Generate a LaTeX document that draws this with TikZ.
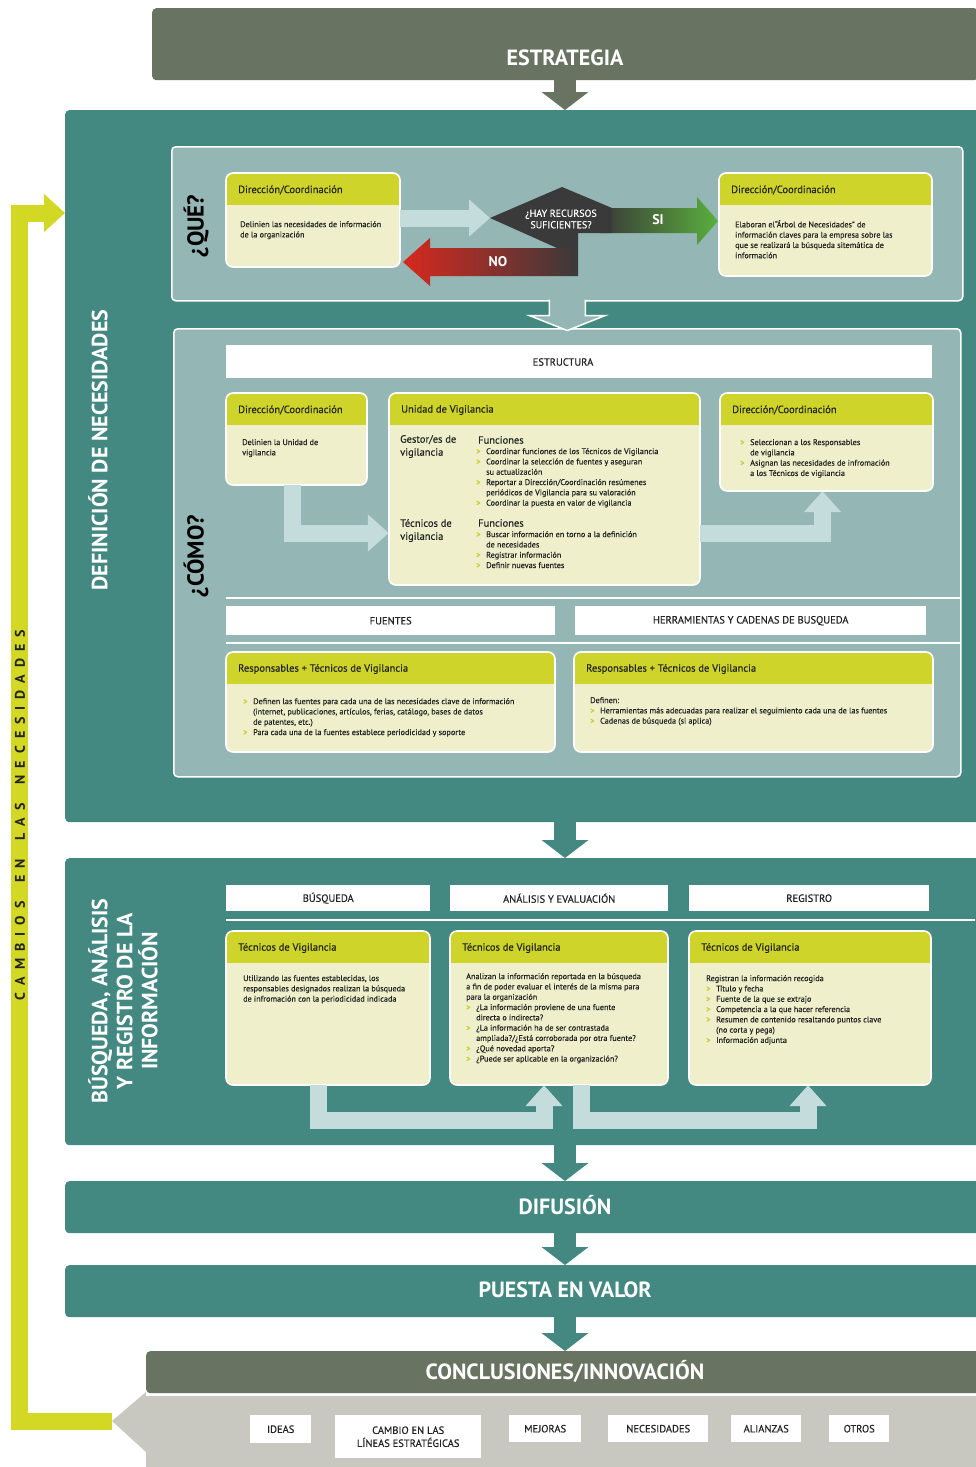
\documentclass[tikz,border=0pt]{standalone}
\usepackage{fontspec}
\setmainfont{PT Sans}
\newfontfamily\vsemi{PT Sans}[FakeBold=0.4]
\usetikzlibrary{arrows.meta}
\usetikzlibrary{fit}

% viñeta y sangría
\newcommand{\vb}{\makebox[10pt][l]{\textcolor{bulc}{\bfseries >}}}
\newcommand{\vi}{\hspace*{10pt}}

% tarjeta: nombre, x1, y1, x2, y2, cabecera
\newcommand{\vcard}[6]{%
  \begin{scope}
    \clip[rounded corners=7pt] (#2,#3) rectangle (#4,#5);
    \fill[bodyc] (#2,#3) rectangle (#4,#5);
    \fill[headc] (#2,#3) rectangle (#4,#3+32);
  \end{scope}
  \draw[white, line width=1.6pt, rounded corners=7pt] (#2,#3) rectangle (#4,#5);
  \node[fit={(#2,#3) (#4,#5)}, inner sep=0pt] (#1) {};
  \node[headtxt] (#1h) at (#2+12,#3+17) {#6};
}

\begin{document}
\begin{tikzpicture}[x=1pt, y=-1pt,
    headtxt/.style={anchor=west, inner sep=0pt, text=txtc, font=\vsemi\fontsize{10.5}{12}\selectfont},
    bodytxt/.style={anchor=north west, inner sep=0pt, align=left, text=txtc, font=\vsemi\fontsize{8.2}{10.3}\selectfont},
    roletxt/.style={anchor=north west, inner sep=0pt, align=left, text=txtc, font=\vsemi\fontsize{10.5}{13}\selectfont},
    barlabel/.style={anchor=north west, fill=white, inner sep=0pt, text=txtc, font=\vsemi\fontsize{10.5}{12}\selectfont},
    itembox/.style={anchor=north west, fill=white, inner sep=0pt, align=center, text=txtc, font=\vsemi\fontsize{10.5}{13}\selectfont},
    bigbox/.style={anchor=north west, inner sep=0pt, rounded corners=4pt},
    panelbox/.style={anchor=north west, inner sep=0pt, fill=panelc, draw=white, line width=1.5pt, rounded corners=4pt},
    bigtxt/.style={text=white, font=\fontsize{22}{24}\selectfont\bfseries},
    sectxt/.style={text=white, rotate=90, align=center, font=\fontsize{22}{25}\selectfont\bfseries},
    asktxt/.style={text=black, rotate=90, font=\fontsize{23}{25}\selectfont\bfseries},
    palearrow/.style={draw=paleArrow, line width=17pt, line join=miter, -{Triangle[width=36pt,length=21pt]}},
    downarrow/.style={line width=22pt, -{Triangle[width=46pt,length=18pt]}},
    looparrow/.style={draw=loopc, line width=17pt, line join=miter, -{Triangle[width=37pt,length=21pt]}}]
    % colores
    \definecolor{olivec}{RGB}{104,116,97}
    \definecolor{tealc}{RGB}{67,137,129}
    \definecolor{panelc}{RGB}{148,182,180}
    \definecolor{headc}{RGB}{206,212,42}
    \definecolor{bodyc}{RGB}{239,240,203}
    \definecolor{paleArrow}{RGB}{196,220,219}
    \definecolor{loopc}{RGB}{211,216,36}
    \definecolor{grayc}{RGB}{200,200,193}
    \definecolor{darkc}{RGB}{58,58,58}
    \definecolor{noRed}{RGB}{215,40,30}
    \definecolor{siGreen}{RGB}{90,175,60}
    \definecolor{txtc}{RGB}{35,35,35}
    \definecolor{bulc}{RGB}{200,207,50}

    \fill[white] (0,0) rectangle (975,1467);
    \useasboundingbox (0,0) rectangle (975,1467);

    % bloques principales
    \node[bigbox, fill=olivec, minimum width=826pt, minimum height=72pt] (estr) at (152,8) {};
    \node[bigtxt] (testr) at (565,58) {ESTRATEGIA};
    \node[bigbox, fill=tealc, minimum width=920pt, minimum height=712pt] (defn) at (65,110) {};
    \node[bigbox, fill=tealc, minimum width=920pt, minimum height=287pt] (busq) at (65,858) {};
    \node[bigbox, fill=tealc, minimum width=1000pt, minimum height=52pt] (difu) at (65,1181) {};
    \node[bigtxt] (tdifu) at (565,1205) {DIFUSIÓN};
    \node[bigbox, fill=tealc, minimum width=1000pt, minimum height=52pt] (pval) at (65,1265) {};
    \node[bigtxt] (tpval) at (565,1290) {PUESTA EN VALOR};
    \node[bigbox, fill=olivec, minimum width=838pt, minimum height=42pt] (concl) at (146,1351) {};
    \node[bigtxt] (tconcl) at (565,1371) {CONCLUSIONES/INNOVACIÓN};

    \node[sectxt] (tdefn) at (98,450) {DEFINICIÓN DE NECESIDADES};
    \node[sectxt] (tbusq) at (123,1001) {BÚSQUEDA, ANÁLISIS\\Y REGISTRO DE LA\\INFORMACIÓN};

    % flechas entre bloques
    \coordinate (ax) at (565,0);
    \draw[downarrow, draw=olivec] (estr.south -| ax) -- (defn.north -| ax);
    \draw[downarrow, draw=tealc] (defn.south -| ax) -- (busq.north -| ax);
    \draw[downarrow, draw=tealc] (busq.south -| ax) -- (difu.north -| ax);
    \draw[downarrow, draw=tealc] (difu.south -| ax) -- (pval.north -| ax);
    \draw[downarrow, draw=tealc] (pval.south -| ax) -- (concl.north -| ax);

    % ¿QUÉ?
    \node[panelbox, minimum width=791pt, minimum height=154pt] (que) at (171,146) {};
    \node[asktxt] (tque) at (196,226) {¿QUÉ?};
    \vcard{dq1}{226}{173}{400}{267}{Dirección/Coordinación}
    \node[bodytxt] (bq1) at (240,221) {Delinien las necesidades de información\\de la organización};
    \vcard{dq2}{719}{173}{932}{276}{Dirección/Coordinación}
    \node[bodytxt] (bq2) at (735,220) {Elaboran el“Árbol de Necesidades” de\\información claves para la empresa sobre las\\que se realizará la búsqueda sitemática de\\información};

    \coordinate (hayw) at (490,218);
    \draw[palearrow] (dq1.east |- hayw) -- (hayw);
    \shade[left color=noRed, right color=darkc] (403,262) -- (430,238) -- (430,248) -- (578,248) -- (578,276) -- (430,276) -- (430,286) -- cycle;
    \shade[left color=darkc, right color=siGreen] (600,208) -- (697,208) -- (697,197) -- (718,221) -- (697,245) -- (697,233) -- (600,233) -- cycle;
    \fill[darkc] (hayw) -- (562,187) -- (612,208) -- (612,233) -- (578,233) -- (578,248) -- (557,248) -- cycle;
    \node[text=white, align=center, font=\vsemi\fontsize{10}{11.5}\selectfont] (hay) at (561,219) {¿HAY RECURSOS\\SUFICIENTES?};
    \node[text=white, font=\fontsize{14}{16}\selectfont\bfseries] (tno) at (498,262) {NO};
    \node[text=white, font=\fontsize{14}{16}\selectfont\bfseries] (tsi) at (658,220) {SI};

    % ¿CÓMO?
    \node[panelbox, minimum width=787pt, minimum height=448pt] (como) at (173,328) {};
    \draw[white, line width=1.5pt, fill=panelc] ([xshift=-18pt, yshift=2pt]que.south) -- ++(0,16) -- ++(-20,0) -- ++(38,15) -- ++(38,-15) -- ++(-20,0) -- ++(0,-16);
    \node[asktxt] (tcomo) at (196,556) {¿CÓMO?};
    \node[barlabel, minimum width=706pt, minimum height=33pt] (estruct) at (226,345) {};
    \node[text=txtc, inner sep=0pt, font=\vsemi\fontsize{10.5}{12}\selectfont] (testruct) at (563,362) {ESTRUCTURA};

    \vcard{dc1}{226}{393}{367}{485}{Dirección/Coordinación}
    \node[bodytxt] (bc1) at (242,439) {Delinien la Unidad de\\vigilancia};
    \vcard{uv}{389}{393}{700}{585}{Unidad de Vigilancia}
    \node[roletxt] (gest) at (400,435) {Gestor/es de\\vigilancia};
    \node[roletxt] (fgest) at (478,436) {Funciones};
    \node[bodytxt] (bgest) at (476,448) {\vb Coordinar funciones de los Técnicos de Vigilancia\\\vb Coordinar la selección de fuentes y aseguran\\\vi su actualización\\\vb Reportar a Dirección/Coordinación resúmenes\\\vi periódicos de Vigilancia para su valoración\\\vb Coordinar la puesta en valor de vigilancia};
    \node[roletxt] (tecn) at (400,519) {Técnicos de\\vigilancia};
    \node[roletxt] (ftecn) at (478,519) {Funciones};
    \node[bodytxt] (btecn) at (476,531) {\vb Buscar información en torno a la definición\\\vi de necesidades\\\vb Registrar información\\\vb Definir nuevas fuentes};
    \vcard{dc2}{720}{393}{933}{491}{Dirección/Coordinación}
    \node[bodytxt] (bc2) at (740,439) {\vb Seleccionan a los Responsables\\\vi de vigilancia\\\vb Asignan las necesidades de infromación\\\vi a los Técnicos de vigilancia};

    \coordinate (cy) at (0,533);
    \draw[palearrow] ([xshift=-4pt]dc1.south) |- (uv.west |- cy);
    \draw[palearrow] (uv.east |- cy) -| ([xshift=-4pt]dc2.south);

    \draw[white, line width=1.5pt] (226,598) -- (960,598);
    \node[barlabel, minimum width=329pt, minimum height=29pt] (fuen) at (226,606) {FUENTES};
    \node[barlabel, minimum width=351pt, minimum height=29pt] (herr) at (575,606) {HERRAMIENTAS Y CADENAS DE BUSQUEDA};
    \draw[white, line width=1.5pt] (226,643) -- (960,643);

    \vcard{rf}{226}{652}{555}{752}{Responsables + Técnicos de Vigilancia}
    \node[bodytxt] (brf) at (243,698) {\vb Definen las fuentes para cada una de las necesidades clave de información\\\vi (internet, publicaciones, artículos, ferias, catálogo, bases de datos\\\vi de patentes, etc.)\\\vb Para cada una de la fuentes establece periodicidad y soporte};
    \vcard{rh}{574}{652}{933}{752}{Responsables + Técnicos de Vigilancia}
    \node[bodytxt] (brh) at (590,697) {Definen:\\\vb Herramientas más adecuadas para realizar  el seguimiento cada una de las fuentes\\\vb Cadenas de búsqueda (si aplica)};

    % búsqueda, análisis y registro
    \node[barlabel, minimum width=204pt, minimum height=26pt] (lbusq) at (226,885) {BÚSQUEDA};
    \node[barlabel, minimum width=218pt, minimum height=26pt] (lanal) at (450,885) {ANÁLISIS Y EVALUACIÓN};
    \node[barlabel, minimum width=240pt, minimum height=26pt] (lregi) at (689,885) {REGISTRO};
    \draw[white, line width=1.5pt] (226,920) -- (975,920);

    \vcard{tb1}{226}{931}{430}{1085}{Técnicos de Vigilancia}
    \node[bodytxt] (btb1) at (243,975) {Utilizando las fuentes establecidas, los\\responsables designados realizan la búsqueda\\de infromación con la periodicidad indicada};
    \vcard{tb2}{450}{931}{668}{1085}{Técnicos de Vigilancia}
    \node[bodytxt] (btb2) at (466,973) {Analizan la información reportada en la búsqueda\\a fin de poder evaluar el interés de la misma para\\para la organización\\\vb ¿La información proviene de una fuente\\\vi directa o indirecta?\\\vb ¿La información ha de ser contrastada\\\vi ampliada?/¿Está corroborada por otra fuente?\\\vb ¿Qué novedad aporta?\\\vb ¿Puede ser aplicable en la organización?};
    \vcard{tb3}{689}{931}{931}{1085}{Técnicos de Vigilancia}
    \node[bodytxt] (btb3) at (706,975) {Registran la información recogida\\\vb Título y fecha\\\vb Fuente de la que se extrajo\\\vb Competencia a la que hacer referencia\\\vb Resumen de contenido resaltando puntos clave\\\vi (no corta y pega)\\\vb Información adjunta};

    \draw[palearrow] ([xshift=-10pt]tb1.south) |- ([xshift=-15pt, yshift=-35pt]tb2.south) -- ([xshift=-15pt]tb2.south);
    \draw[palearrow] ([xshift=22pt]tb2.south) |- ([xshift=-2pt, yshift=-35pt]tb3.south) -- ([xshift=-2pt]tb3.south);

    % cambios en las necesidades
    \coordinate (gtip) at (112,1421);
    \coordinate (lx) at (19.5,0);
    \coordinate (qy) at (0,213);
    \draw[looparrow] (gtip) -- (gtip -| lx) -- (lx |- qy) -- (defn.west |- qy);
    \node[rotate=90, text=txtc, font=\fontsize{14}{16}\selectfont\bfseries] (tcamb) at (20,815) {\makebox[370pt][s]{C\hfil A\hfil M\hfil B\hfil I\hfil O\hfil S\hfil\hspace{5pt}\hfil E\hfil N\hfil\hspace{5pt}\hfil L\hfil A\hfil S\hfil\hspace{5pt}\hfil N\hfil E\hfil C\hfil E\hfil S\hfil I\hfil D\hfil A\hfil D\hfil E\hfil S}};

    % conclusiones
    \node[bigbox, rounded corners=0pt, fill=grayc, minimum width=839pt, minimum height=71pt] (salida) at (146,1396) {};
    \fill[grayc] (salida.north west) ++(0,-4) -- (gtip) -- (146,1452) -- cycle;
    \node[itembox, minimum width=61pt, minimum height=28pt] (ideas) at (250,1415) {IDEAS};
    \node[itembox, minimum width=146pt, minimum height=43pt] (cambio) at (335,1415) {CAMBIO EN LAS\\LÍNEAS ESTRATÉGICAS};
    \node[itembox, minimum width=72pt, minimum height=27pt] (mejoras) at (509,1415) {MEJORAS};
    \node[itembox, minimum width=100pt, minimum height=27pt] (neces) at (608,1415) {NECESIDADES};
    \node[itembox, minimum width=70pt, minimum height=27pt] (alian) at (731,1415) {ALIANZAS};
    \node[itembox, minimum width=60pt, minimum height=27pt] (otros) at (829,1415) {OTROS};
\end{tikzpicture}
\end{document}
